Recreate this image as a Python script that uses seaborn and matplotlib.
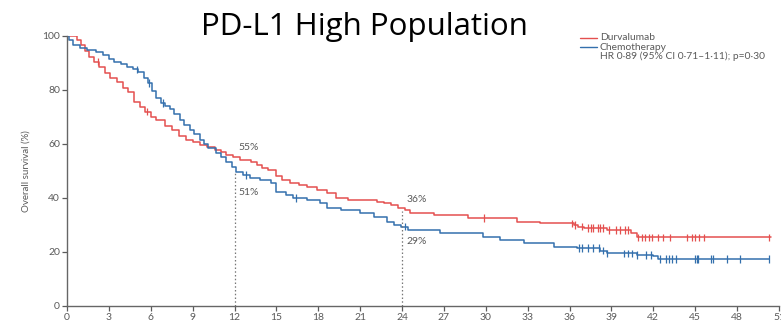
import numpy as np
import pandas as pd
import matplotlib
matplotlib.use("Agg")
import matplotlib.pyplot as plt
from matplotlib.lines import Line2D
import seaborn as sns

# ---------------- data ----------------
durva_t = [0, 0.7, 1.0, 1.3, 1.6, 1.9, 2.3, 2.7, 3.1, 3.6, 4.0, 4.4, 4.8, 5.2, 5.6, 6.0, 6.4, 7.0, 7.5, 8.0,
           8.5, 9.0, 9.5, 10.0, 10.6, 11.0, 11.4, 11.9, 12.4, 13.2, 13.6, 14.0, 14.4, 15.0, 15.4, 16.0, 16.6,
           17.2, 17.9, 18.6, 19.3, 20.1, 22.2, 22.7, 23.2, 23.7, 24.2, 24.6, 26.3, 28.7, 32.2, 33.9, 36.3,
           36.6, 37.0, 38.7, 40.4, 40.8, 50.4]
durva_s = [100, 98.5, 96.5, 94.5, 92.0, 90.4, 88.5, 86.1, 84.5, 83.0, 80.5, 79.0, 75.6, 73.5, 71.9, 70.0, 68.8,
           66.5, 65.0, 63.0, 61.5, 60.5, 59.5, 58.8, 57.7, 56.8, 55.8, 55.0, 54.0, 53.3, 52.1, 51.0, 50.3, 48.0,
           46.6, 45.3, 44.7, 44.1, 42.9, 41.6, 39.8, 39.1, 38.5, 37.9, 37.3, 36.1, 35.4, 34.2, 33.6, 32.4, 31.1,
           30.5, 29.9, 29.3, 28.7, 28.0, 26.8, 25.3, 25.3]

chemo_t = [0, 0.15, 0.45, 0.9, 1.4, 2.1, 2.6, 3.0, 3.4, 3.9, 4.3, 4.7, 5.1, 5.5, 5.8, 6.1, 6.4, 6.7, 7.0, 7.4,
           7.7, 8.1, 8.4, 8.8, 9.1, 9.5, 9.8, 10.1, 10.7, 11.0, 11.4, 11.8, 12.1, 12.6, 13.1, 13.8, 14.6, 15.0,
           15.7, 16.2, 17.2, 18.1, 18.6, 19.6, 21.0, 22.0, 22.9, 23.4, 23.9, 24.4, 26.7, 29.8, 31.0, 32.7, 34.9,
           36.5, 38.2, 38.7, 40.8, 42.0, 42.3, 50.3]
chemo_s = [100, 98.5, 96.6, 95.5, 94.7, 94.1, 92.9, 91.5, 90.4, 89.5, 88.5, 87.5, 86.5, 84.5, 82.4, 79.5, 77.0,
           75.0, 74.0, 72.8, 71.0, 68.8, 67.0, 65.1, 63.5, 61.4, 60.0, 58.3, 56.4, 55.0, 53.3, 51.5, 49.6, 48.4,
           47.2, 46.6, 45.3, 42.2, 41.0, 39.8, 39.1, 37.9, 36.1, 35.4, 34.2, 33.0, 31.1, 29.9, 29.3, 28.0, 26.8,
           25.6, 24.3, 23.1, 21.9, 21.3, 20.4, 19.4, 18.8, 18.4, 17.3, 17.3]

durva_cens = [2.2, 5.7, 29.9, 36.2, 36.4, 36.9, 37.3, 37.5, 37.7, 38.0, 38.2, 38.4, 38.8, 39.3, 39.6, 40.0, 40.2,
              40.9, 41.2, 41.4, 41.7, 41.9, 42.3, 42.7, 43.2, 44.4, 44.8, 45.0, 45.3, 45.6, 50.3]
chemo_cens = [5.0, 5.9, 6.9, 12.8, 16.4, 24.2, 36.7, 36.9, 37.3, 37.7, 38.1, 38.4, 38.7, 39.9, 40.2, 40.5, 40.8,
              41.5, 41.8, 42.5, 42.9, 43.1, 43.3, 43.6, 45.0, 45.1, 45.2, 46.1, 46.3, 47.3, 48.2, 50.3]

groups = ["Durvalumab", "Chemotherapy"]
landmarks = [12, 24]
landmark_line_top = [50, 35]
durva_labels = ["55%", "36%"]
chemo_labels = ["51%", "29%"]
x_ticks = list(range(0, 52, 3))
y_ticks = [0, 20, 40, 60, 80, 100]
title = "PD-L1 High Population"
hr_text = "HR 0·89 (95% CI 0·71–1·11); p=0·30"

RED = "#e4504f"
BLUE = "#3470ad"
GRAY = "#5a5a5a"

# ---------------- build frames ----------------
curves = pd.concat([
    pd.DataFrame({"t": durva_t, "s": durva_s, "arm": groups[0]}),
    pd.DataFrame({"t": chemo_t, "s": chemo_s, "arm": groups[1]}),
], ignore_index=True)


def step_value(ts, ss, x):
    idx = np.searchsorted(np.asarray(ts), x, side="right") - 1
    return np.asarray(ss)[idx]


cens = pd.concat([
    pd.DataFrame({"t": durva_cens, "s": step_value(durva_t, durva_s, durva_cens), "arm": groups[0]}),
    pd.DataFrame({"t": chemo_cens, "s": step_value(chemo_t, chemo_s, chemo_cens), "arm": groups[1]}),
], ignore_index=True)

palette = {groups[0]: RED, groups[1]: BLUE}

# ---------------- figure ----------------
sns.set_style("ticks")
plt.rcParams["font.family"] = ["Lato", "DejaVu Sans"]

fig = plt.figure(figsize=(7.81, 3.23), dpi=100)
ax = fig.add_axes([67 / 781, (323 - 305.7) / 323, (779 - 67) / 781, 270 / 323])

sns.lineplot(data=curves, x="t", y="s", hue="arm", palette=palette, estimator=None, sort=False,
             drawstyle="steps-post", linewidth=1.1, legend=False, ax=ax)
sns.scatterplot(data=cens, x="t", y="s", hue="arm", palette=palette, marker="|", s=30,
                linewidth=0.9, legend=False, ax=ax, zorder=3)

for lm, top in zip(landmarks, landmark_line_top):
    ax.plot([lm, lm], [0, top], linestyle=(0, (1.2, 1.8)), color="#777777", linewidth=0.9)

label_kw = dict(fontsize=7.5, color=GRAY, ha="left", va="center")
ax.text(12.3, 58.6, durva_labels[0], **label_kw)
ax.text(12.3, 41.8, chemo_labels[0], **label_kw)
ax.text(24.3, 39.3, durva_labels[1], **label_kw)
ax.text(24.3, 23.6, chemo_labels[1], **label_kw)

ax.set_xlim(0, 51)
ax.set_ylim(0, 100)
ax.set_xticks(x_ticks)
ax.set_yticks(y_ticks)
ax.set_xlabel("")
ax.set_ylabel("Overall survival (%)", fontsize=7, color=GRAY, labelpad=8)
ax.tick_params(axis="both", labelsize=7.5, colors=GRAY, length=3.6, width=0.9, pad=1.5)
for side in ["top", "right"]:
    ax.spines[side].set_visible(False)
for side in ["left", "bottom"]:
    ax.spines[side].set_color("#666666")
    ax.spines[side].set_linewidth(1.0)

# title
fig.text(364 / 781, 1 - 35 / 323, title, ha="center", va="baseline", fontsize=22.5,
         family=["Open Sans", "DejaVu Sans"], color="black")

# legend (manual)
fig.add_artist(Line2D([580 / 781, 597 / 781], [1 - 38 / 323] * 2, color=RED, linewidth=1.0))
fig.add_artist(Line2D([580 / 781, 597 / 781], [1 - 47 / 323] * 2, color=BLUE, linewidth=1.0))
leg_kw = dict(fontsize=7.4, color=GRAY, ha="left", va="center")
fig.text(600 / 781, 1 - 38 / 323, groups[0], **leg_kw)
fig.text(600 / 781, 1 - 47 / 323, groups[1], **leg_kw)
fig.text(600 / 781, 1 - 56.5 / 323, hr_text, **leg_kw)

fig.savefig("out.png", dpi=100)
